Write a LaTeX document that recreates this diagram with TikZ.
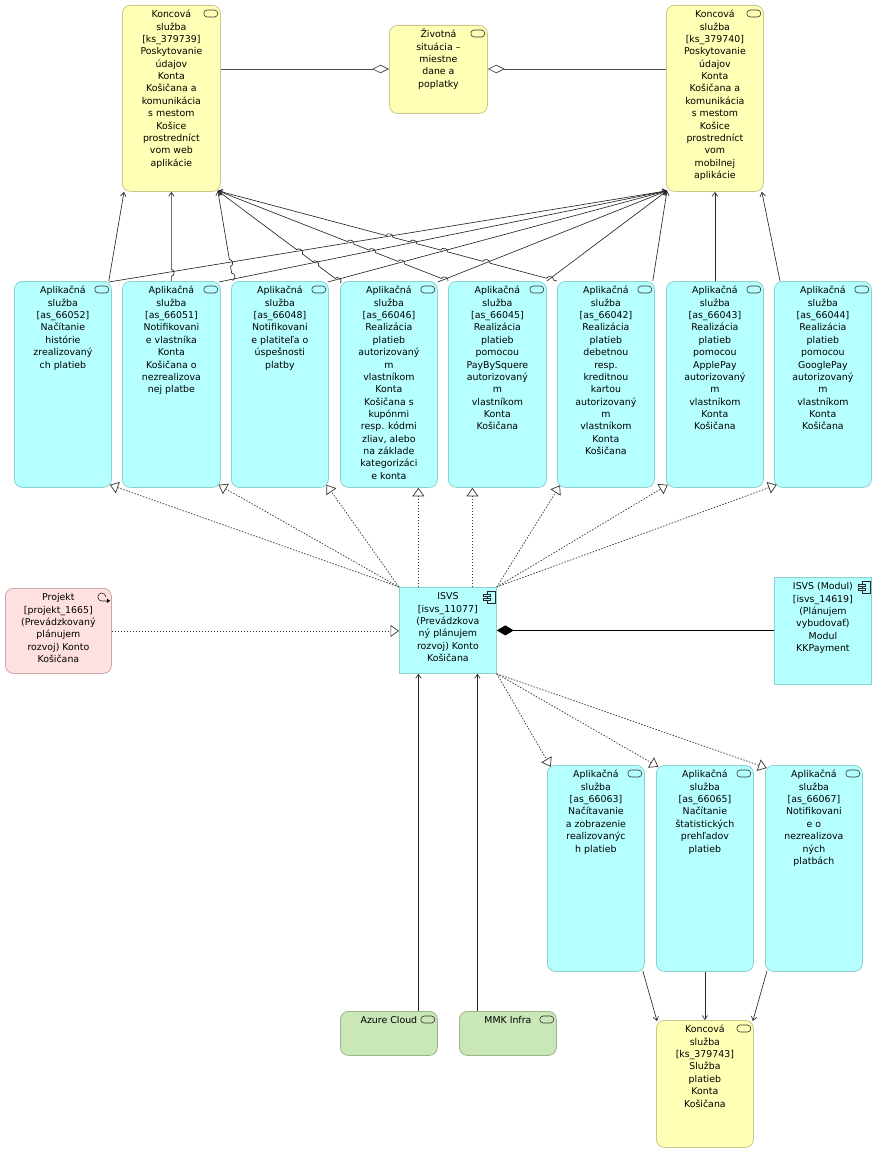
\documentclass[tikz,border=0pt]{standalone}
\usepackage{fontspec}
\setmainfont{DejaVu Sans}
\usetikzlibrary{calc,arrows.meta}
\definecolor{ylw}{HTML}{FFFFB5}
\definecolor{ylwb}{HTML}{C8C88C}
\definecolor{cyn}{HTML}{B5FFFF}
\definecolor{cynb}{HTML}{8CD0D0}
\definecolor{pnk}{HTML}{FFE0E0}
\definecolor{pnkb}{HTML}{C8A8A8}
\definecolor{grn}{HTML}{C9E7B7}
\definecolor{grnb}{HTML}{9DB58E}
\tikzset{
  every node/.append style={font=\fontsize{9.4pt}{12.35pt}\selectfont,inner sep=0pt,anchor=north west,text=black},
  ylwbox/.style={fill=ylw,draw=ylwb,rounded corners=8pt,line width=.8pt},
  cynbox/.style={fill=cyn,draw=cynb,rounded corners=8pt,line width=.8pt},
  pnkbox/.style={fill=pnk,draw=pnkb,rounded corners=8pt,line width=.8pt},
  grnbox/.style={fill=grn,draw=grnb,rounded corners=8pt,line width=.8pt},
  cynsq/.style={fill=cyn,draw=cynb,line width=.8pt},
  flow/.style={line width=.65pt,black!85},
  served/.style={flow,{Straight Barb[length=4pt,width=5.5pt]}-},
  realize/.style={line width=.7pt,black!80,dash pattern=on 1.5pt off 1.5pt,-{Triangle[open,fill=white,length=8.5pt,width=12pt]}},
  aggr/.style={line width=.7pt,black!70,-{Diamond[open,fill=white,length=17pt,width=8.5pt]}},
  comp/.style={line width=.8pt,black,-{Diamond[length=17pt,width=10pt]}},
  svc/.pic={\draw[line width=.6pt,black!80,fill=none,rounded corners=3.4pt] (-17,5) rectangle (-3,12);},
  cmpn/.pic={\draw[line width=.55pt,black!85] (-10,4) rectangle (-2,16);
     \draw[line width=.55pt,black!85,fill=cyn] (-14,7) rectangle (-7,9.5) (-14,11) rectangle (-7,13.5);},
  proc/.pic={\draw[line width=.6pt,black!85] (-4.5,13) -- (-10,13) arc[start angle=90,end angle=360,radius=4];
     \fill[black] (-5,10.5) -- (-1.5,12.8) -- (-5,15) -- cycle;}
}
% name, x, y, w, h, style, text
\newcommand\abox[7]{\node[#6] (#1) at (#2,#3) {\parbox[c][#5pt][t]{#4pt}{\centering\rule{0pt}{12.5pt}#7\par}};}
\newcommand\hop[3]{-- ($(#1)!{#3pt-3.5pt}!(#2)$) to[bend left=90,looseness=1.3] ($(#1)!{#3pt+3.5pt}!(#2)$)}
\begin{document}
\begin{tikzpicture}[x=1pt,y=-1pt]
\useasboundingbox (0,0) rectangle (877,1153);
\abox{ksa}{122}{5}{98}{186}{ylwbox}{Koncová\\služba\\{[ks\_379739]}\\Poskytovanie\\údajov\\Konta\\Košičana a\\komunikácia\\s mestom\\Košice\\prostredníct\\vom web\\aplikácie}
\abox{zs}{389}{25}{98}{88}{ylwbox}{Životná\\situácia –\\miestne\\dane a\\poplatky}
\abox{ksb}{666}{5}{97}{186}{ylwbox}{Koncová\\služba\\{[ks\_379740]}\\Poskytovanie\\údajov\\Konta\\Košičana a\\komunikácia\\s mestom\\Košice\\prostredníct\\vom\\mobilnej\\aplikácie}
\abox{ra}{14}{281}{97}{206}{cynbox}{Aplikačná\\služba\\{[as\_66052]}\\Načítanie\\histórie\\zrealizovaný\\ch platieb}
\abox{rb}{122}{281}{98}{206}{cynbox}{Aplikačná\\služba\\{[as\_66051]}\\Notifikovani\\e vlastníka\\Konta\\Košičana o\\nezrealizova\\nej platbe}
\abox{rc}{231}{281}{97}{206}{cynbox}{Aplikačná\\služba\\{[as\_66048]}\\Notifikovani\\e platiteľa o\\úspešnosti\\platby}
\abox{rd}{340}{281}{97}{206}{cynbox}{Aplikačná\\služba\\{[as\_66046]}\\Realizácia\\platieb\\autorizovaný\\m\\vlastníkom\\Konta\\Košičana s\\kupónmi\\resp. kódmi\\zliav, alebo\\na základe\\kategorizáci\\e konta}
\abox{re}{448}{281}{98}{206}{cynbox}{Aplikačná\\služba\\{[as\_66045]}\\Realizácia\\platieb\\pomocou\\PayBySquere\\autorizovaný\\m\\vlastníkom\\Konta\\Košičana}
\abox{rf}{557}{281}{97}{206}{cynbox}{Aplikačná\\služba\\{[as\_66042]}\\Realizácia\\platieb\\debetnou\\resp.\\kreditnou\\kartou\\autorizovaný\\m\\vlastníkom\\Konta\\Košičana}
\abox{rg}{666}{281}{97}{206}{cynbox}{Aplikačná\\služba\\{[as\_66043]}\\Realizácia\\platieb\\pomocou\\ApplePay\\autorizovaný\\m\\vlastníkom\\Konta\\Košičana}
\abox{rh}{774}{281}{97}{206}{cynbox}{Aplikačná\\služba\\{[as\_66044]}\\Realizácia\\platieb\\pomocou\\GooglePay\\autorizovaný\\m\\vlastníkom\\Konta\\Košičana}
\abox{prj}{5}{588}{106}{85}{pnkbox}{Projekt\\{[projekt\_1665]}\\(Prevádzkovaný\\plánujem\\rozvoj) Konto\\Košičana}
\abox{isvs}{399}{587}{97}{86}{cynsq}{ISVS\\{[isvs\_11077]}\\(Prevádzkova\\ný plánujem\\rozvoj) Konto\\Košičana}
\abox{mod}{774}{577}{97}{107}{cynsq}{ISVS (Modul)\\{[isvs\_14619]}\\(Plánujem\\vybudovať)\\Modul\\KKPayment}
\abox{la}{547}{765}{97}{206}{cynbox}{Aplikačná\\služba\\{[as\_66063]}\\Načítavanie\\a zobrazenie\\realizovanýc\\h platieb}
\abox{lb}{656}{765}{97}{206}{cynbox}{Aplikačná\\služba\\{[as\_66065]}\\Načítanie\\štatistických\\prehľadov\\platieb}
\abox{lc}{765}{765}{97}{206}{cynbox}{Aplikačná\\služba\\{[as\_66067]}\\Notifikovani\\e o\\nezrealizova\\ných\\platbách}
\abox{az}{340}{1011}{97}{44}{grnbox}{Azure Cloud}
\abox{mmk}{459}{1011}{97}{44}{grnbox}{MMK Infra}
\abox{ksc}{656}{1020}{97}{127}{ylwbox}{Koncová\\služba\\{[ks\_379743]}\\Služba\\platieb\\Konta\\Košičana}
\foreach \n in {ksa,zs,ksb,ra,rb,rc,rd,re,rf,rg,rh,la,lb,lc,az,mmk,ksc}
  \pic at (\n.north east) {svc};
\pic at (isvs.north east) {cmpn};
\pic at (mod.north east) {cmpn};
\pic at (prj.north east) {proc};
% targets and corners
\coordinate (ta) at ([shift={(-3,-1)}]ksa.south east);
\coordinate (tb) at ([shift={(1,-1)}]ksb.south west);
\coordinate (sat) at ([shift={(-3,1)}]ra.north east);
\coordinate (sbt) at ([shift={(-2,1)}]rb.north east);
\coordinate (sct) at ([shift={(-1,1)}]rc.north east);
\coordinate (sdt) at ([shift={(0,1)}]rd.north east);
\coordinate (set) at (re.north east);
\coordinate (sct2) at ([shift={(2,0)}]rc.north west);
\coordinate (sd) at ([shift={(0,1)}]rd.north west);
\coordinate (se) at (re.north west);
\coordinate (sf) at (rf.north west);
% to the left service
\draw[served] ([xshift=2pt]ksa.south west) -- ([xshift=-3pt]ra.north east);
\coordinate (bt) at (rb.north |- ksa.south);
\draw[served] (bt) \hop{bt}{rb.north}{81} -- (rb.north);
\draw[served] (ta) \hop{ta}{sct2}{73.2} \hop{ta}{sct2}{87} -- (sct2);
\draw[served] (ta) \hop{ta}{sd}{102} \hop{ta}{sd}{122} \hop{ta}{sd}{150} -- (sd);
\draw[served] (ta) \hop{ta}{se}{142.7} \hop{ta}{se}{165.9} \hop{ta}{se}{197} \hop{ta}{se}{243.7} -- (se);
\draw[served] (ta) \hop{ta}{sf}{177.6} \hop{ta}{sf}{202.4} \hop{ta}{sf}{234.2} \hop{ta}{sf}{278} \hop{ta}{sf}{343.8} -- (sf);
% to the right service
\foreach \s in {sat,sbt,sct,sdt,set}
  \draw[served] (tb) -- (\s);
\draw[served] (tb) -- ([xshift=-2pt]rf.north east);
\draw[served] (rg.north |- ksb.south) -- (rg.north);
\draw[served] ([xshift=-2pt]ksb.south east) -- ([xshift=6pt]rh.north west);
% aggregation
\draw[aggr] (ksa.east |- 0,69) -- (zs.west |- 0,69);
\draw[aggr] (ksb.west |- 0,69) -- (zs.east |- 0,69);
% realization
\draw[realize] (isvs.north west) -- ([shift={(-2,-3)}]ra.south east);
\draw[realize] (isvs.north west) -- ([shift={(-2.3,-3)}]rb.south east);
\draw[realize] (isvs.north west) -- ([shift={(-2.3,-3)}]rc.south east);
\draw[realize] ([xshift=-29.5pt]isvs.north) -- ([xshift=29.5pt]rd.south);
\draw[realize] ([xshift=24.5pt]isvs.north) -- ([xshift=-25pt]re.south);
\draw[realize] (isvs.north east) -- ([shift={(3,-2.5)}]rf.south west);
\draw[realize] (isvs.north east) -- ([shift={(1.7,-3)}]rg.south west);
\draw[realize] (isvs.north east) -- ([shift={(2.7,-3)}]rh.south west);
\draw[realize] (prj.east) -- (isvs.west |- prj.east);
\draw[realize] (isvs.south east) -- ([shift={(3.7,1.7)}]la.north west);
\draw[realize] (isvs.south east) -- ([shift={(2.3,1.7)}]lb.north west);
\draw[realize] (isvs.south east) -- ([shift={(1.7,3)}]lc.north west);
\draw[comp] (mod.west |- isvs.east) -- (isvs.east);
\draw[served] ([xshift=-29.5pt]isvs.south) -- ([xshift=29.5pt]az.north);
\draw[served] ([xshift=29.5pt]isvs.south) -- ([xshift=-30.5pt]mmk.north);
\draw[served] ([shift={(1,1)}]ksc.north west) -- ([shift={(-2,-1)}]la.south east);
\draw[served] (ksc.north) -- (lb.south);
\draw[served] ([shift={(-1,1)}]ksc.north east) -- ([shift={(2,-1)}]lc.south west);
\end{tikzpicture}
\end{document}
